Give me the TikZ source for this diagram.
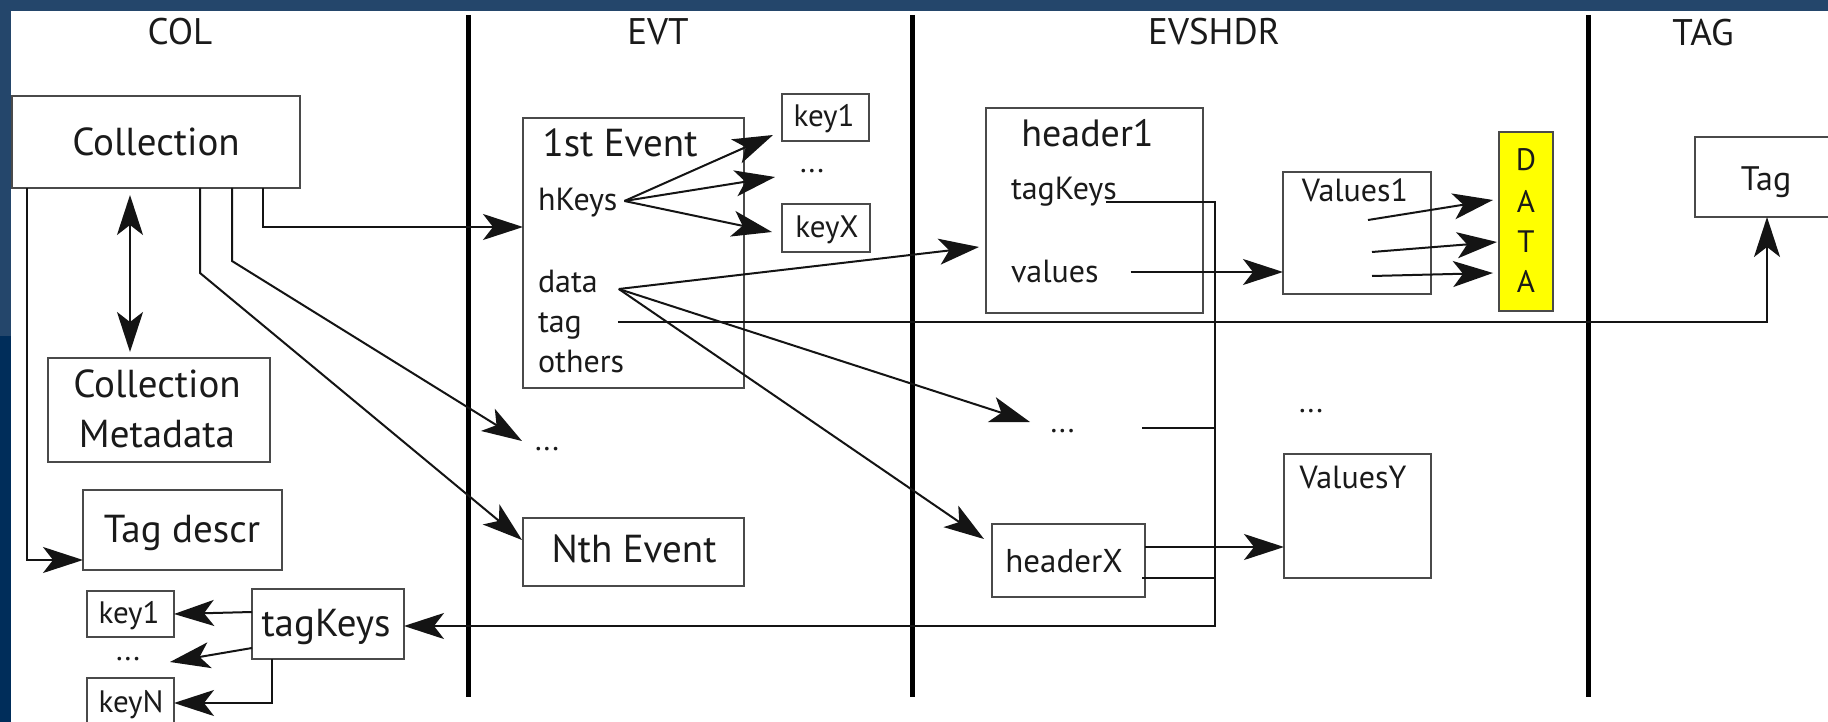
\documentclass[tikz,border=0pt]{standalone}
\usepackage{fontspec}
\setmainfont{PT Sans}
\usetikzlibrary{arrows.meta,calc}
\definecolor{bandtop}{HTML}{24466B}
\definecolor{banddark}{HTML}{002D5A}
\definecolor{boxline}{HTML}{4A4A4A}
\definecolor{ink}{HTML}{1A1A1A}
\definecolor{linkink}{HTML}{141414}
\definecolor{datayellow}{HTML}{FFFF00}
\newcommand\fsz[1]{\fontsize{#1}{#1}\selectfont}

\begin{document}
\begin{tikzpicture}[x=1pt,y=-1pt,
  frame/.style={draw=boxline,line width=2.4pt,inner sep=0pt,outer sep=0pt},
  lbl/.style={inner sep=0pt,outer sep=0pt,text=ink,anchor=base},
  lblw/.style={lbl,anchor=base west},
  head/.style={lbl,font=\fsz{37}},
  big/.style={lbl,font=\fsz{39}},
  mid/.style={font=\fsz{32}},
  small/.style={font=\fsz{31}},
  sepline/.style={line width=5pt,black},
  link/.style={line width=2pt,linkink},
  tip/.style={-{Stealth[length=40pt,width=26pt,inset=10pt]}},
  arr/.style={link,tip},
  darr/.style={link,{Stealth[length=40pt,width=26pt,inset=10pt]}-{Stealth[length=40pt,width=26pt,inset=10pt]}}
]
\useasboundingbox (0,0) rectangle (1828,722);
\clip (0,0) rectangle (1828,722);

% slide frame and canvas
\fill[white] (0,0) rectangle (1828,722);
\fill[bandtop] (0,0) rectangle (1828,11);
\fill[bandtop] (0,0) rectangle (11,336);
\fill[banddark] (0,336) rectangle (11,722);

% column separators
\draw[sepline] (468,15) -- (468,697);
\draw[sepline] (912,15) -- (912,697);
\draw[sepline] (1588,15) -- (1588,697);

% column titles
\node[head] (tcol) at (180,45) {COL};
\node[head] (tevt) at (658,45) {EVT};
\node[head] (tevs) at (1214,45) {EVSHDR};
\node[head] (ttag) at (1703,46) {TAG};

% ---------- COL ----------
\node[frame,minimum width=288pt,minimum height=92pt] (coll) at (156,142) {};
\node[big] (colltxt) at (156,156) {Collection};
\node[frame,minimum width=222pt,minimum height=104pt] (cmeta) at (159,410) {};
\node[big] (cmeta1) at (157,397) {Collection};
\node[big] (cmeta2) at (157,447) {Metadata};
\node[frame,minimum width=199pt,minimum height=80pt] (tagd) at (182.5,530) {};
\node[big] (tagdtxt) at (182,542) {Tag descr};
\node[frame,minimum width=152pt,minimum height=70pt] (tkeys) at (328,624) {};
\node[big] (tkeystxt) at (326,636) {tagKeys};
\node[frame,minimum width=87pt,minimum height=46pt] (key1l) at (130.5,614) {};
\node[lbl,small] (key1ltxt) at (129,623) {key1};
\node[lbl,small] (dotsl) at (128,660) {...};
\node[frame,minimum width=87pt,minimum height=46pt] (keynl) at (130.5,701) {};
\node[lbl,small] (keynltxt) at (131,712) {keyN};

% ---------- EVT ----------
\node[frame,minimum width=221pt,minimum height=270pt] (ev1) at (633.5,253) {};
\node[big] (ev1txt) at (620,157) {1st Event};
\node[lblw,mid] (hkeys) at (538,211) {hKeys};
\node[lblw,mid] (datal) at (538,292) {data};
\node[lblw,mid] (tagl) at (538,332) {tag};
\node[lblw,mid] (othl) at (538,372) {others};
\node[frame,minimum width=87pt,minimum height=47pt] (key1e) at (825.5,117.5) {};
\node[lbl,small] (key1etxt) at (824,127) {key1};
\node[lbl,small] (edots) at (812,173) {...};
\node[frame,minimum width=88pt,minimum height=48pt] (keyxe) at (826,228) {};
\node[lbl,small] (keyxetxt) at (827,237) {keyX};
\node[lbl,small] (evdots) at (547,450) {...};
\node[frame,minimum width=221pt,minimum height=68pt] (nth) at (633.5,552) {};
\node[big] (nthtxt) at (634,562) {Nth Event};

% ---------- EVSHDR ----------
\node[frame,minimum width=217pt,minimum height=205pt] (hdr1) at (1094.5,210.5) {};
\node[lbl,font=\fsz{38}] (hdr1txt) at (1087.5,147) {header1};
\node[lblw,mid] (htagk) at (1011,200) {tagKeys};
\node[lblw,mid] (hvals) at (1011,282) {values};
\node[lbl,small] (hdots) at (1062.5,432) {...};
\node[frame,minimum width=153pt,minimum height=73pt] (hdrx) at (1068.5,560.5) {};
\node[lbl,font=\fsz{33}] (hdrxtxt) at (1064,572) {headerX};
\node[frame,minimum width=148pt,minimum height=122pt] (val1) at (1357,233) {};
\node[lbl,mid] (val1txt) at (1355,202) {Values1};
\node[lbl,small] (vdots) at (1311,412) {...};
\node[frame,minimum width=147pt,minimum height=124pt] (valy) at (1357.5,516) {};
\node[lbl,mid] (valytxt) at (1353,488) {ValuesY};
\node[frame,fill=datayellow,minimum width=54pt,minimum height=179pt] (data) at (1526,221.5) {};
\node[lbl,small] (dD) at (1526,171) {D};
\node[lbl,small] (dA1) at (1526,212) {A};
\node[lbl,small] (dT) at (1526,252) {T};
\node[lbl,small] (dA2) at (1526,292) {A};

% ---------- TAG ----------
\node[frame,minimum width=144pt,minimum height=80pt] (tagb) at (1767,177) {};
\node[lbl,font=\fsz{34}] (tagbtxt) at (1766,191) {Tag};

% ---------- connectors from Collection ----------
\coordinate (b1) at (263,227);
\coordinate (b2) at (232,261);
\coordinate (b3) at (200,273);
\coordinate (b4) at (27,560);
\coordinate (dd) at (130,270);
\draw[arr] (coll.south -| b1) -- (b1) -- (ev1.west |- b1);
\draw[arr] (coll.south -| b2) -- (b2) -- ($(evdots.base)+(-25,-9)$);
\draw[arr] (coll.south -| b3) -- (b3) -- ($(nth.west)+(-1,-12)$);
\draw[arr] (coll.south -| b4) -- (b4) -- (tagd.west |- b4);
\draw[darr,shorten <=7pt,shorten >=6pt] (coll.south -| dd) -- (cmeta.north -| dd);

% ---------- tagKeys to its keys ----------
\coordinate (k3) at (272,703);
\draw[arr] ($(tkeys.west)+(0,-12)$) -- (key1l.east);
\draw[arr] ($(tkeys.west)+(0,24)$) -- ($(dotsl.base)+(42,2)$);
\draw[arr] (tkeys.south -| k3) -- (k3) -- (keynl.east |- k3);

% ---------- event keys ----------
\draw[arr] ($(hkeys.base east)+(7,-10)$) -- ($(key1e.south west)+(-9,-6)$);
\draw[arr] ($(hkeys.base east)+(7,-10)$) -- ($(edots.base)+(-37,4)$);
\draw[arr] ($(hkeys.base east)+(7,-10)$) -- ($(keyxe.west)+(-10,4)$);

% ---------- event data to headers ----------
\draw[arr] ($(datal.base east)+(21,-3)$) -- ($(hdr1.west)+(-7,36.5)$);
\draw[arr] ($(datal.base east)+(21,-3)$) -- ($(hdots.base)+(-32.5,-10)$);
\draw[arr] ($(datal.base east)+(21,-3)$) -- ($(hdrx.west)+(-8,-21.5)$);

% ---------- event tag to Tag ----------
\coordinate (tg) at ($(tagl.base east)+(36,-10)$);
\draw[arr] (tg) -- (tagb.south |- tg) -- (tagb.south);

% ---------- header values ----------
\coordinate (hv) at ($(hvals.base east)+(32,-10)$);
\draw[arr] (hv) -- (val1.west |- hv);
\draw[arr] ($(val1.center)+(11,-13)$) -- ($(data.west)+(-6,-21.5)$);
\draw[arr] ($(val1.center)+(15,19)$) -- ($(data.west)+(-2,20.5)$);
\draw[arr] ($(val1.center)+(15,43)$) -- ($(data.west)+(-6,51.5)$);
\coordinate (hx) at ($(hdrx.east)+(0,-13.5)$);
\draw[arr] (hx) -- (valy.west |- hx);

% ---------- header tagKeys bus back to COL ----------
\coordinate (bus1) at (1215,202);
\coordinate (bus2) at (1215,626);
\draw[arr] ($(htagk.base east)+(-11,2)$) -- (bus1) -- (bus2) -- (tkeys.east |- bus2);
\coordinate (hd) at ($(hdots.base)+(79.5,-4)$);
\draw[link] (hd) -- (hd -| bus1);
\coordinate (hxb) at ($(hdrx.east)+(-3,17.5)$);
\draw[link] (hxb) -- (hxb -| bus1);
\end{tikzpicture}
\end{document}
